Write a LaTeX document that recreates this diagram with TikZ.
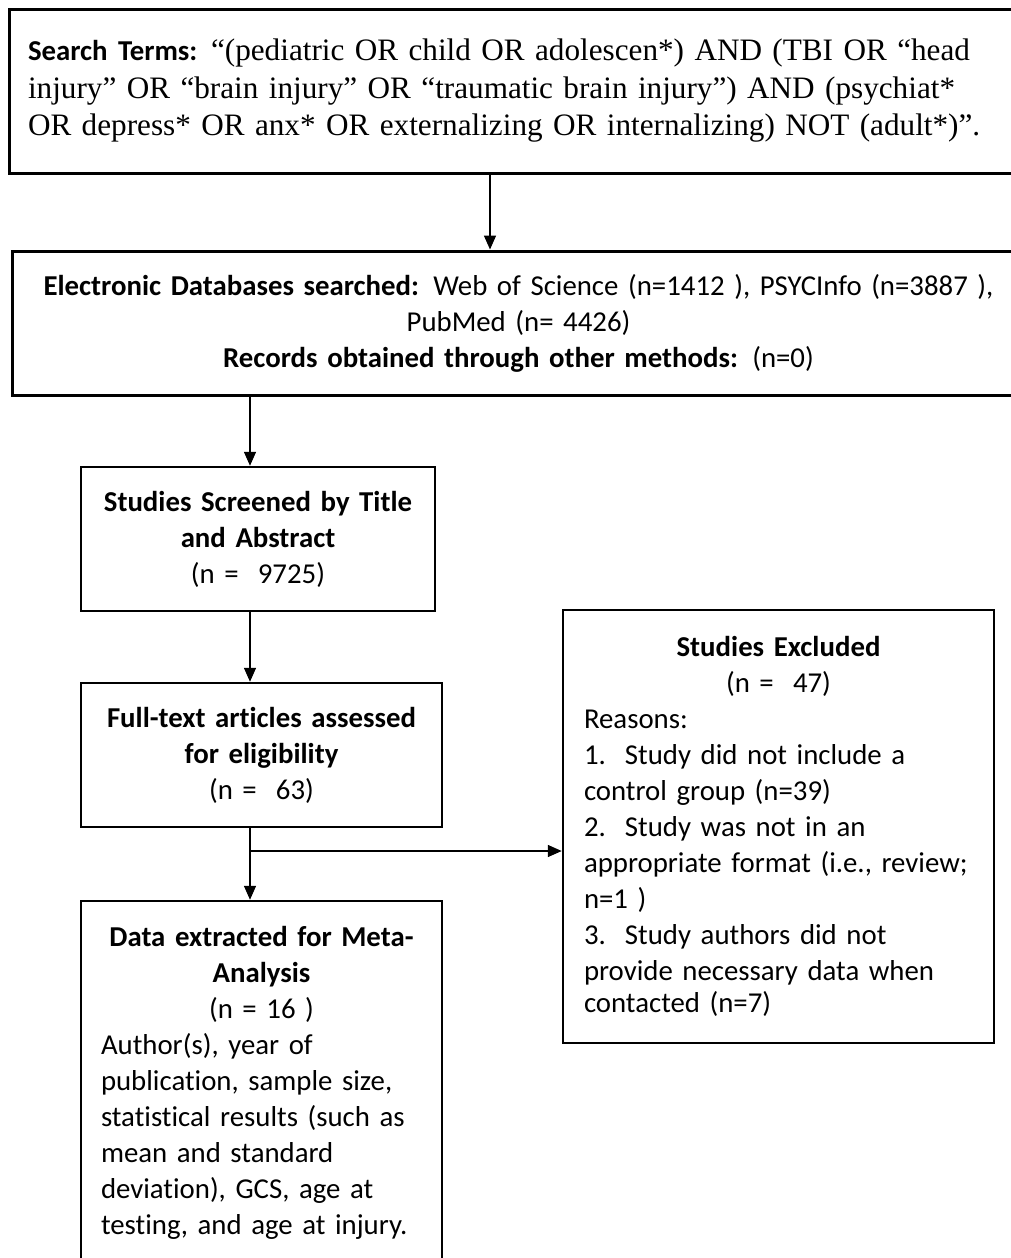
\documentclass[tikz,border=0pt]{standalone}
\usepackage{fontspec}
\setmainfont{Carlito}[Ligatures=CommonOff]
\newfontfamily\timesf{Liberation Serif}
\usetikzlibrary{arrows.meta}
\begin{document}
\begin{tikzpicture}[x=1pt,y=-1pt,
  box/.style={draw, line width=2.5pt, rectangle, inner ysep=0pt},
  cbody/.style={font=\fontsize{28.8}{36}\selectfont},
  arr/.style={line width=1.5pt, -{Triangle[length=14pt,width=12pt]}}
]
\fill[white] (0,0) rectangle (1010,1258);
\useasboundingbox (0,0) rectangle (1010,1258);

% boxes
\node[box, line width=3pt, minimum width=1016pt, minimum height=164pt,
      text width=978pt, inner xsep=19pt, align=left,
      font=\timesf\fontsize{31.2}{37.5}\selectfont] (top) at (517,91)
  {\mbox{{\fontspec{Carlito}[Ligatures=CommonOff]\bfseries\fontsize{28.8}{37.5}\selectfont Search Terms:}\hspace{-2pt} “(pediatric OR child OR adolescen*) AND (TBI OR “head}\\
   \mbox{injury” OR “brain injury” OR “traumatic brain injury”) AND (psychiat*}\\
   \mbox{OR depress* OR anx* OR externalizing OR internalizing) NOT (adult*)”.}\par\vspace{26pt}};

\node[box, line width=3pt, minimum width=1013pt, minimum height=144pt,
      text width=990pt, align=center, cbody] (elec) at (518.5,323)
  {\textbf{Electronic Databases searched:} Web of Science (n=1412 ), PSYCInfo (n=3887 ),\\
   PubMed (n= 4426)\\
   \textbf{Records obtained through other methods:} (n=0)};

\node[box, minimum width=354pt, minimum height=144pt,
      text width=340pt, align=center, cbody] (scr) at (258,539)
  {\textbf{Studies Screened by Title}\\ \textbf{and Abstract}\\ (n =\ \ 9725)};

\node[box, minimum width=361pt, minimum height=144pt,
      text width=345pt, align=center, cbody] (full) at (261.5,755)
  {\textbf{Full-text articles assessed}\\ \textbf{for eligibility}\\ (n =\ \ 63)};

\node[box, minimum width=361pt, minimum height=363pt,
      text width=321pt, inner xsep=20pt, align=left, cbody] (data) at (261.5,1082.5)
  {{\centering\textbf{Data extracted for Meta-}\\ \textbf{Analysis}\\ (n = 16 )\par}
   \mbox{Author(s), year of}\\
   \mbox{publication, sample size,}\\
   \mbox{statistical results (such as}\\
   \mbox{mean and standard}\\
   \mbox{deviation), GCS, age at}\\
   \mbox{testing, and age at injury.}};

\node[box, minimum width=431pt, minimum height=433pt,
      text width=389pt, inner xsep=21pt, align=left, cbody] (excl) at (778.5,826.5)
  {{\centering\textbf{Studies Excluded}\\ (n =\ \ 47)\par}
   \mbox{Reasons:}\\
   \mbox{\makebox[41pt][l]{1.}Study did not include a}\\
   \mbox{control group (n=39)}\\
   \mbox{\makebox[41pt][l]{2.}Study was not in an}\\
   \mbox{appropriate format (i.e., review;}\\
   \mbox{n=1 )}\\
   \mbox{\makebox[41pt][l]{3.}Study authors did not}\\
   \mbox{provide necessary data when}\\[-4pt]
   \mbox{contacted (n=7)}};

% connector helper coordinates
\coordinate (ax1) at (490,0);
\coordinate (ax2) at (250,0);
\coordinate (br) at (250,851);

\draw[arr] (top.south -| ax1) -- (elec.north -| ax1);
\draw[arr] (elec.south -| ax2) -- (scr.north -| ax2);
\draw[arr] (scr.south -| ax2) -- (full.north -| ax2);
\draw[arr] (full.south -| ax2) -- (data.north -| ax2);
\draw[arr] (br) -- (br -| excl.west);
\end{tikzpicture}
\end{document}
